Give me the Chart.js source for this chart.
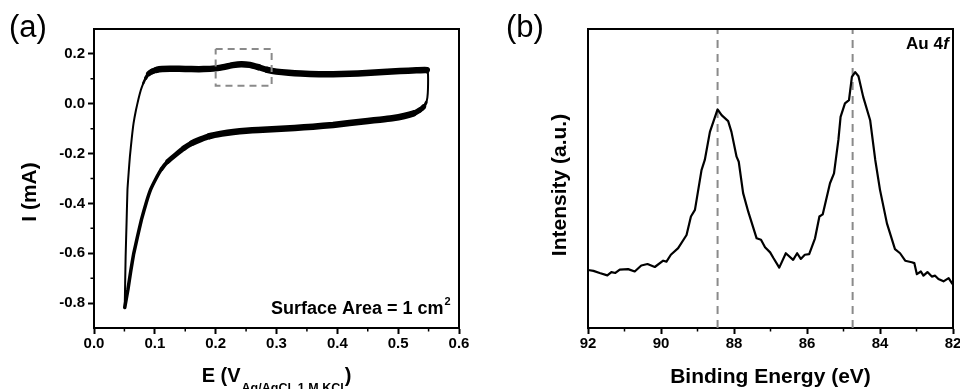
<!DOCTYPE html>
<html>
<head>
<meta charset="utf-8">
<script src="https://cdn.jsdelivr.net/npm/chart.js@4.4.1/dist/chart.umd.min.js"></script>
<style>
  html, body { margin: 0; padding: 0; background: #fff; }
  #wrap { position: relative; width: 960px; height: 389px; overflow: hidden; }
  canvas { position: absolute; top: 0; }
  #cv { left: 0; }
  #xps { left: 480px; }
</style>
</head>
<body>
<div id="wrap">
  <canvas id="cv" width="480" height="389"></canvas>
  <canvas id="xps" width="480" height="389"></canvas>
</div>
<script>
// ---- (a) cyclic voltammogram: anodic sweep 0.05 -> 0.55 V, then cathodic sweep back ----
const anodicE = [0.0505, 0.0512, 0.052, 0.0535, 0.055, 0.057, 0.059, 0.062, 0.065, 0.069,
                 0.073, 0.077, 0.081, 0.085, 0.090, 0.096, 0.103, 0.112, 0.125, 0.140,
                 0.160, 0.180, 0.200, 0.215, 0.228, 0.242, 0.256, 0.270, 0.285, 0.300,
                 0.320, 0.340, 0.370, 0.393, 0.420, 0.448, 0.475, 0.503, 0.530, 0.547];
const anodicI = [-0.818, -0.72, -0.612, -0.48, -0.345, -0.275, -0.212, -0.14, -0.079, -0.025,
                 0.018, 0.055, 0.082, 0.103, 0.121, 0.130, 0.136, 0.139, 0.140, 0.140,
                 0.139, 0.139, 0.142, 0.148, 0.155, 0.159, 0.156, 0.147, 0.136, 0.129,
                 0.124, 0.121, 0.118, 0.118, 0.120, 0.123, 0.127, 0.131, 0.134, 0.135];
const cathodicE = [0.549, 0.549, 0.548, 0.546, 0.542, 0.535, 0.525, 0.510, 0.490, 0.470,
                   0.450, 0.420, 0.393, 0.360, 0.330, 0.300, 0.270, 0.250, 0.229, 0.210,
                   0.190, 0.175, 0.161, 0.148, 0.134, 0.121, 0.111, 0.102, 0.093, 0.0855,
                   0.078, 0.0713, 0.065, 0.0605, 0.0558, 0.0505];
const cathodicI = [0.12, 0.06, 0.025, 0.005, -0.012, -0.026, -0.039, -0.049, -0.058, -0.064,
                   -0.069, -0.077, -0.085, -0.092, -0.097, -0.101, -0.105, -0.108, -0.113, -0.120,
                   -0.130, -0.143, -0.158, -0.178, -0.205, -0.232, -0.262, -0.300, -0.345, -0.400,
                   -0.465, -0.535, -0.605, -0.670, -0.745, -0.818];
// highlighted region around the small oxidation wave
const markerBoxE = [0.200, 0.292];
const markerBoxI = [0.072, 0.220];
const cvTicksE = [0, 0.1, 0.2, 0.3, 0.4, 0.5, 0.6];
const cvTicksI = [-0.8, -0.6, -0.4, -0.2, 0, 0.2];

// ---- (b) Au 4f XPS spectrum ----
const bindingEnergy = [92.00, 91.85, 91.68, 91.47, 91.36, 91.25, 91.13, 90.90, 90.72, 90.54,
                       90.37, 90.17, 89.94, 89.85, 89.73, 89.53, 89.30, 89.18, 89.07, 88.89,
                       88.80, 88.66, 88.45, 88.34, 88.16, 88.07, 87.93, 87.87, 87.75, 87.61,
                       87.38, 87.26, 87.15, 87.01, 86.92, 86.76, 86.58, 86.38, 86.27, 86.17,
                       86.06, 85.94, 85.78, 85.66, 85.57, 85.37, 85.26, 85.14, 85.08, 84.96,
                       84.85, 84.77, 84.68, 84.59, 84.46, 84.27, 84.13, 84.00, 83.81, 83.59,
                       83.45, 83.31, 83.13, 83.06, 82.99, 82.88, 82.81, 82.70, 82.58, 82.49,
                       82.40, 82.26, 82.12, 82.03, 82.00];
const intensity = [19.4, 19.1, 18.4, 17.6, 18.7, 18.4, 19.5, 19.7, 18.9, 20.9,
                   21.4, 20.4, 22.5, 22.2, 24.5, 26.7, 31.1, 37.3, 39.5, 52.8,
                   56.2, 65.6, 73.1, 71.2, 69.2, 65.6, 57.3, 55.6, 45.1, 38.9,
                   30.0, 29.5, 27.0, 25.3, 23.4, 20.2, 25.0, 22.8, 25.0, 23.1,
                   24.5, 24.7, 30.0, 37.3, 38.0, 48.4, 51.7, 62.9, 70.6, 75.1,
                   76.2, 84.0, 85.6, 84.2, 77.3, 69.5, 56.2, 46.2, 35.0, 26.4,
                   25.0, 22.5, 22.0, 21.7, 18.0, 18.9, 17.5, 18.7, 17.2, 17.5,
                   16.4, 15.6, 16.7, 15.0, 14.5];
const peakEnergies = [88.45, 84.75];
const xpsTicksBE = [92, 90, 88, 86, 84, 82];

// ---- shared styling ----
const FONT = "'Liberation Sans', Arial, Helvetica, sans-serif";
Chart.defaults.font.family = FONT;
Chart.defaults.color = '#000';
const tickFont = { family: FONT, size: 15, weight: 'bold' };

const midpoints = t => t.slice(1).map((v, i) => (t[i] + v) / 2);
const xy = (xs, ys) => xs.map((x, i) => ({ x, y: ys[i] }));

// the recorded trace is noisy along the current axis, so flat parts look like a thick band
function bandWidth(ctx) {
  const dx = ctx.p1.x - ctx.p0.x, dy = ctx.p1.y - ctx.p0.y;
  const len = Math.hypot(dx, dy) || 1;
  const onReturn = ctx.p0DataIndex >= anodicE.length && ctx.p0.parsed.y < -0.1;
  const w = Math.max(onReturn ? 3.5 : 2, 6.5 * Math.abs(dx) / len);
  return Math.round(w * 2) / 2;
}

// minor ticks and the closing top/right frame lines
const frameAndMinor = {
  id: 'frameAndMinor',
  afterDatasetsDraw(chart, args, opts) {
    const { ctx, chartArea: a, scales } = chart;
    ctx.save();
    ctx.strokeStyle = '#000';
    ctx.lineWidth = 1.5;
    ctx.beginPath();
    (opts.minorX || []).forEach(v => {
      const p = scales.x.getPixelForValue(v);
      ctx.moveTo(p, a.bottom); ctx.lineTo(p, a.bottom + 3.5);
    });
    (opts.minorY || []).forEach(v => {
      const p = scales.y.getPixelForValue(v);
      ctx.moveTo(a.left, p); ctx.lineTo(a.left - 3.5, p);
    });
    ctx.stroke();
    ctx.lineWidth = 2;
    ctx.beginPath();
    ctx.moveTo(a.left - 1, a.top);
    ctx.lineTo(a.right, a.top);
    ctx.lineTo(a.right, a.bottom + 1);
    ctx.stroke();
    ctx.restore();
  }
};

function xAxis(min, max, ticks, fmt, reverse) {
  return {
    type: 'linear', min, max, reverse: !!reverse,
    afterBuildTicks: s => { s.ticks = ticks.map(v => ({ value: v })); },
    afterFit: s => { s.height = 61; s.paddingLeft = 0; s.paddingRight = 0; },
    ticks: { callback: fmt, font: tickFont, color: '#000', padding: 1, maxRotation: 0, autoSkip: false },
    grid: { drawOnChartArea: false, drawTicks: true, tickLength: 6, tickWidth: 2, tickColor: '#000' },
    border: { display: true, color: '#000', width: 2 }
  };
}

// ---------------- (a) ----------------
const cvText = {
  id: 'cvText',
  afterDraw(chart) {
    const { ctx, chartArea: a } = chart;
    ctx.save();
    ctx.fillStyle = '#000';
    ctx.textBaseline = 'alphabetic';

    ctx.font = `31px ${FONT}`;
    ctx.textAlign = 'left';
    ctx.fillText('(a)', 9, 36.5);

    ctx.save();
    ctx.translate(36, 192);
    ctx.rotate(-Math.PI / 2);
    ctx.font = `bold 21px ${FONT}`;
    ctx.textAlign = 'center';
    ctx.fillText('I (mA)', 0, 0);
    ctx.restore();

    const main1 = 'E (V', sub = 'Ag/AgCl, 1 M KCl', main2 = ')';
    ctx.font = `bold 20px ${FONT}`;
    const w1 = ctx.measureText(main1).width, w3 = ctx.measureText(main2).width;
    ctx.font = `bold 12.5px ${FONT}`;
    const w2 = ctx.measureText(sub).width;
    let x = (a.left + a.right) / 2 - (w1 + w2 + w3 + 2) / 2;
    ctx.textAlign = 'left';
    ctx.font = `bold 20px ${FONT}`;
    ctx.fillText(main1, x, 382.3);
    x += w1 + 1;
    ctx.font = `bold 12.5px ${FONT}`;
    ctx.fillText(sub, x, 391.5);
    x += w2 + 1;
    ctx.font = `bold 20px ${FONT}`;
    ctx.fillText(main2, x, 382.3);

    ctx.font = `bold 18px ${FONT}`;
    ctx.textAlign = 'right';
    ctx.fillText('Surface Area = 1 cm', 443.5, 314);
    ctx.font = `bold 11px ${FONT}`;
    ctx.textAlign = 'left';
    ctx.fillText('2', 444.5, 305);
    ctx.restore();
  }
};

const boxPoints = [
  { x: markerBoxE[0], y: markerBoxI[1] }, { x: markerBoxE[1], y: markerBoxI[1] },
  { x: markerBoxE[1], y: markerBoxI[0] }, { x: markerBoxE[0], y: markerBoxI[0] },
  { x: markerBoxE[0], y: markerBoxI[1] }
];

new Chart(document.getElementById('cv'), {
  type: 'line',
  data: {
    datasets: [
      {
        label: 'marker',
        data: boxPoints,
        order: 0,
        borderColor: '#8a8a8a', borderWidth: 2, borderDash: [7, 5],
        pointRadius: 0, tension: 0, fill: false
      },
      {
        label: 'CV',
        data: xy(anodicE, anodicI).concat(xy(cathodicE, cathodicI)),
        order: 1,
        borderColor: '#000', borderWidth: 3, borderCapStyle: 'round', borderJoinStyle: 'round',
        segment: { borderWidth: bandWidth },
        pointRadius: 0, tension: 0.12, fill: false
      }
    ]
  },
  options: {
    responsive: false, animation: false, devicePixelRatio: 1,
    layout: { padding: { top: 29, right: 21, left: 0, bottom: 0 } },
    plugins: {
      legend: { display: false }, tooltip: { enabled: false }, title: { display: false },
      frameAndMinor: { minorX: midpoints(cvTicksE), minorY: midpoints(cvTicksI) }
    },
    scales: {
      x: xAxis(0, 0.6, cvTicksE, v => v.toFixed(1)),
      y: {
        type: 'linear', min: -0.9, max: 0.3,
        afterBuildTicks: s => { s.ticks = cvTicksI.map(v => ({ value: v })); },
        afterFit: s => { s.width = 94; s.paddingTop = 0; s.paddingBottom = 0; },
        ticks: { callback: v => v.toFixed(1), font: tickFont, color: '#000', padding: 3 },
        grid: { drawOnChartArea: false, drawTicks: true, tickLength: 6, tickWidth: 2, tickColor: '#000' },
        border: { display: true, color: '#000', width: 2 }
      }
    }
  },
  plugins: [frameAndMinor, cvText]
});

// ---------------- (b) ----------------
const xpsText = {
  id: 'xpsText',
  afterDraw(chart) {
    const { ctx, chartArea: a } = chart;
    ctx.save();
    ctx.fillStyle = '#000';
    ctx.textBaseline = 'alphabetic';

    ctx.font = `31px ${FONT}`;
    ctx.textAlign = 'left';
    ctx.fillText('(b)', 26, 36.5);

    ctx.save();
    ctx.translate(85.5, 185);
    ctx.rotate(-Math.PI / 2);
    ctx.font = `bold 21px ${FONT}`;
    ctx.textAlign = 'center';
    ctx.fillText('Intensity (a.u.)', 0, 0);
    ctx.restore();

    ctx.font = `bold 21px ${FONT}`;
    ctx.textAlign = 'center';
    ctx.fillText('Binding Energy (eV)', (a.left + a.right) / 2, 383);

    ctx.font = `italic bold 17px ${FONT}`;
    ctx.textAlign = 'right';
    const wf = ctx.measureText('f').width;
    ctx.fillText('f', 469, 49);
    ctx.font = `bold 17px ${FONT}`;
    ctx.fillText('Au 4', 469 - wf - 0.5, 49);
    ctx.restore();
  }
};

const guideSets = peakEnergies.map(e => ({
  label: 'peak ' + e,
  data: [{ x: e, y: 0 }, { x: e, y: 100 }],
  order: 2,
  borderColor: '#8a8a8a', borderWidth: 2, borderDash: [8, 6],
  pointRadius: 0, tension: 0, fill: false
}));

new Chart(document.getElementById('xps'), {
  type: 'line',
  data: {
    datasets: [
      {
        label: 'Au 4f',
        data: xy(bindingEnergy, intensity),
        order: 0,
        borderColor: '#000', borderWidth: 2.2, borderJoinStyle: 'round',
        pointRadius: 0, tension: 0, fill: false
      },
      ...guideSets
    ]
  },
  options: {
    responsive: false, animation: false, devicePixelRatio: 1,
    layout: { padding: { top: 29, right: 7, left: 0, bottom: 0 } },
    plugins: {
      legend: { display: false }, tooltip: { enabled: false }, title: { display: false },
      frameAndMinor: { minorX: midpoints(xpsTicksBE), minorY: [] }
    },
    scales: {
      x: xAxis(82, 92, xpsTicksBE, v => String(v), true),
      y: {
        type: 'linear', min: 0, max: 100,
        afterFit: s => { s.width = 108; s.paddingTop = 0; s.paddingBottom = 0; },
        ticks: { display: false },
        grid: { drawOnChartArea: false, drawTicks: false },
        border: { display: true, color: '#000', width: 2 }
      }
    }
  },
  plugins: [frameAndMinor, xpsText]
});
</script>
</body>
</html>
